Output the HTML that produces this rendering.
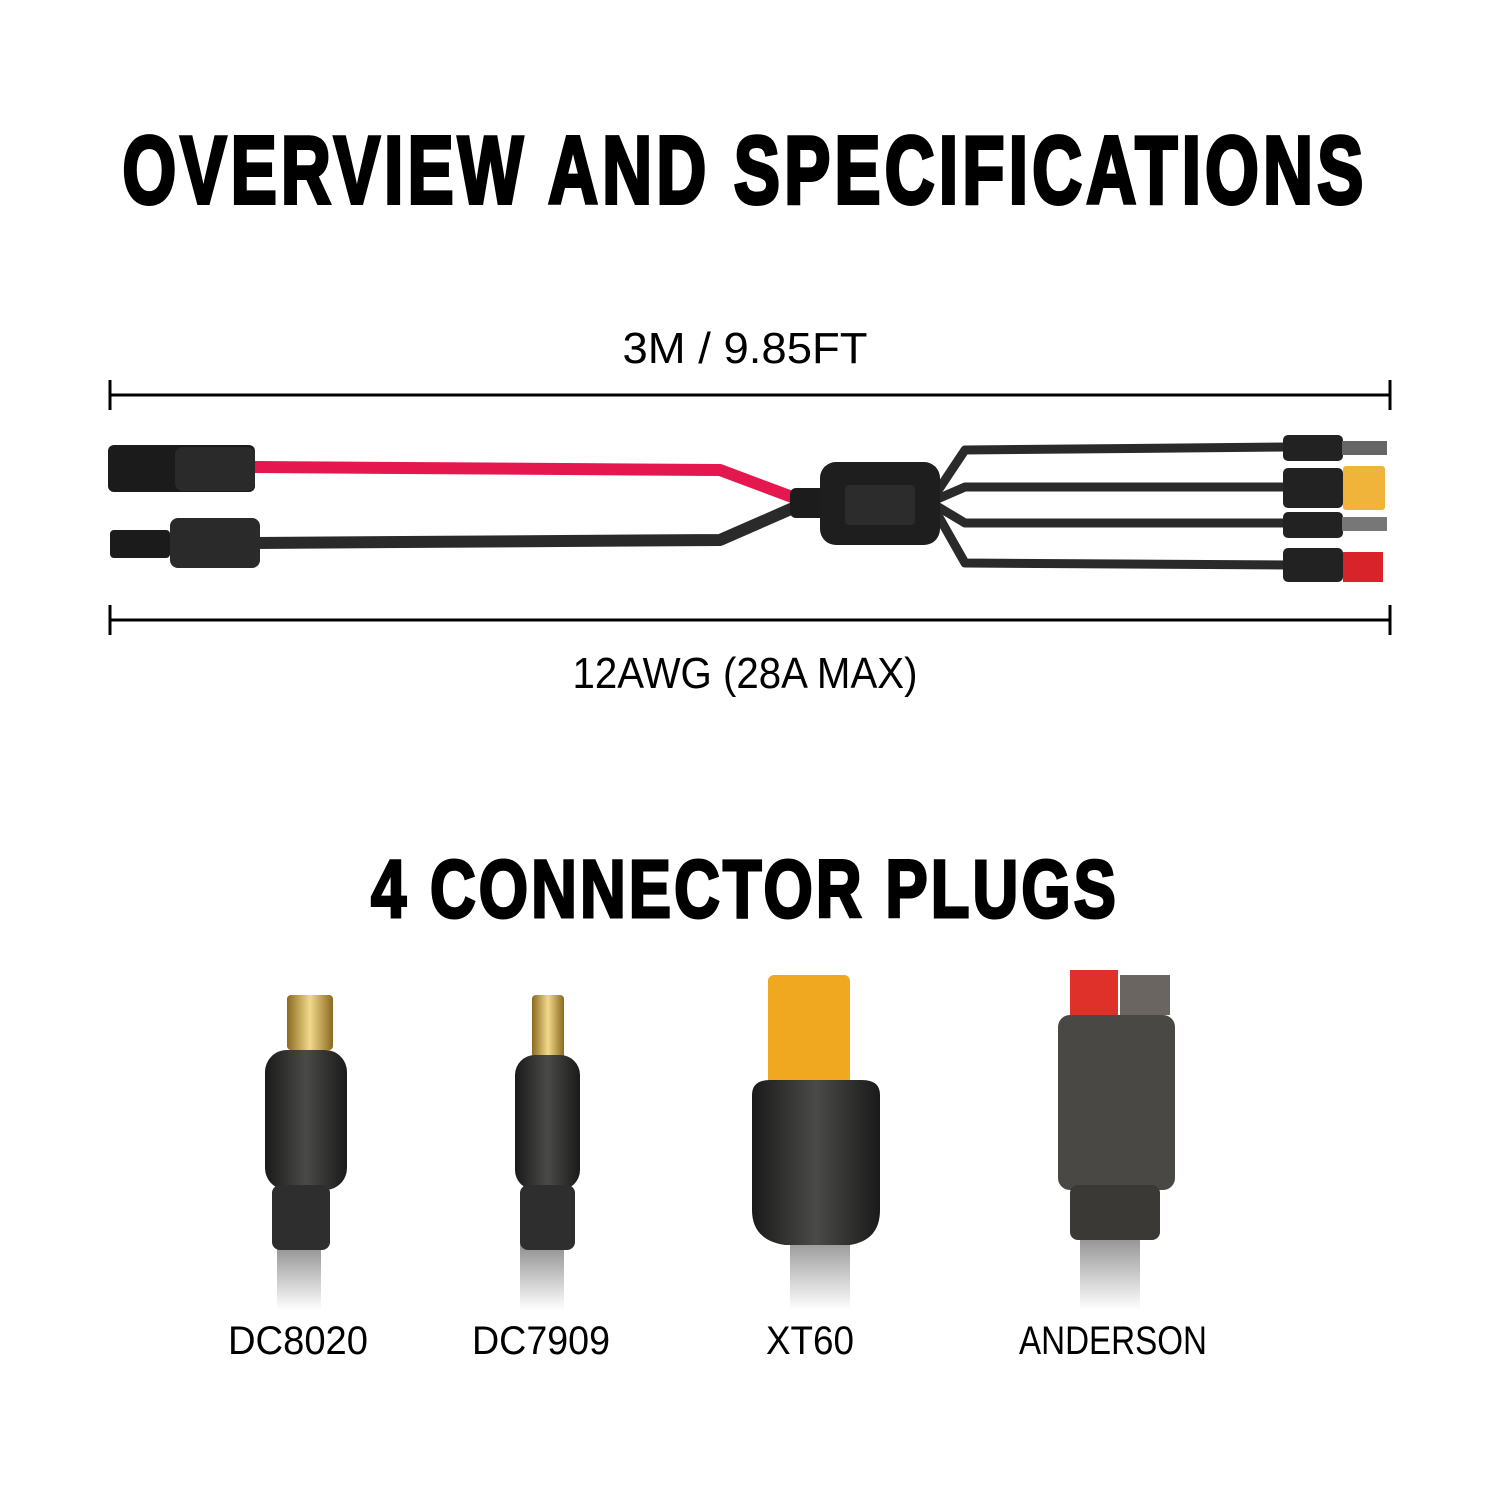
<!DOCTYPE html>
<html><head><meta charset="utf-8"><style>
body{margin:0;background:#fff}
svg text{font-family:"Liberation Sans Narrow","Liberation Sans",sans-serif;fill:#000}
</style></head><body>
<svg width="1500" height="1500" viewBox="0 0 1500 1500" xmlns="http://www.w3.org/2000/svg">
<defs>
<linearGradient id="cab" x1="0" y1="0" x2="0" y2="1"><stop offset="0" stop-color="#888"/><stop offset="1" stop-color="#fff"/></linearGradient>
<linearGradient id="gold" x1="0" x2="1"><stop offset="0" stop-color="#8a6a20"/><stop offset=".5" stop-color="#f2d98a"/><stop offset="1" stop-color="#8a6a20"/></linearGradient>
<linearGradient id="blk" x1="0" x2="1"><stop offset="0" stop-color="#1a1a1a"/><stop offset=".5" stop-color="#4a4a48"/><stop offset="1" stop-color="#1a1a1a"/></linearGradient>
</defs>
<text x="745" y="203" text-anchor="middle" font-size="96" font-weight="bold" stroke="#000" stroke-width="4" textLength="1245" lengthAdjust="spacingAndGlyphs" letter-spacing="6">OVERVIEW AND SPECIFICATIONS</text>
<text x="745" y="363" text-anchor="middle" font-size="44" textLength="245" lengthAdjust="spacingAndGlyphs">3M / 9.85FT</text>
<g stroke="#000" stroke-width="3"><line x1="110" y1="395" x2="1390" y2="395"/><line x1="110" y1="380" x2="110" y2="410"/><line x1="1390" y1="380" x2="1390" y2="410"/>
<line x1="110" y1="620" x2="1390" y2="620"/><line x1="110" y1="605" x2="110" y2="635"/><line x1="1390" y1="605" x2="1390" y2="635"/></g>
<text x="745" y="688" text-anchor="middle" font-size="44" textLength="345" lengthAdjust="spacingAndGlyphs">12AWG (28A MAX)</text>
<g fill="none" stroke-width="12" stroke-linejoin="round">
<polyline points="250,467 720,470 800,500" stroke="#e5174f"/>
<polyline points="255,543 720,540 800,505" stroke="#2a2a2a"/>
<g stroke="#2a2a2a" stroke-width="9">
<polyline points="935,495 965,450 1290,447"/><polyline points="935,500 965,487 1290,487"/>
<polyline points="935,505 965,523 1290,523"/><polyline points="935,510 965,563 1290,565"/></g></g>
<rect x="790" y="488" width="35" height="30" rx="6" fill="#1c1c1c"/>
<rect x="820" y="462" width="120" height="83" rx="16" fill="#1e1e1e"/>
<rect x="845" y="485" width="70" height="40" rx="4" fill="#2c2c2c"/>
<rect x="108" y="445" width="147" height="47" rx="6" fill="#1b1b1b"/>
<rect x="175" y="447" width="80" height="44" rx="8" fill="#2a2a2a"/>
<rect x="110" y="530" width="60" height="28" rx="4" fill="#1b1b1b"/>
<rect x="170" y="518" width="90" height="50" rx="8" fill="#2a2a2a"/>
<g fill="#222"><rect x="1283" y="435" width="60" height="26" rx="5"/><rect x="1283" y="468" width="60" height="40" rx="5"/><rect x="1283" y="512" width="60" height="26" rx="5"/><rect x="1283" y="548" width="60" height="34" rx="5"/></g>
<rect x="1342" y="441" width="45" height="14" fill="#666"/><rect x="1342" y="517" width="45" height="14" fill="#777"/>
<rect x="1343" y="466" width="42" height="44" rx="3" fill="#f0b43a"/>
<rect x="1343" y="552" width="40" height="30" fill="#d8232a"/>
<text x="745" y="917" text-anchor="middle" font-size="82" font-weight="bold" stroke="#000" stroke-width="3" textLength="748" lengthAdjust="spacingAndGlyphs" letter-spacing="4">4 CONNECTOR PLUGS</text>
<g>
<rect x="277" y="1240" width="44" height="70" fill="url(#cab)"/>
<rect x="287" y="995" width="46" height="55" rx="4" fill="url(#gold)"/>
<rect x="265" y="1050" width="82" height="140" rx="22" fill="url(#blk)"/>
<rect x="272" y="1185" width="58" height="65" rx="8" fill="#2e2e2e"/>
<rect x="520" y="1240" width="44" height="70" fill="url(#cab)"/>
<rect x="532" y="995" width="32" height="65" rx="4" fill="url(#gold)"/>
<rect x="515" y="1055" width="65" height="135" rx="20" fill="url(#blk)"/>
<rect x="520" y="1185" width="55" height="65" rx="8" fill="#2e2e2e"/>
<rect x="790" y="1230" width="60" height="80" fill="url(#cab)"/>
<rect x="768" y="975" width="82" height="110" rx="6" fill="#f0a820"/>
<path d="M752,1095 Q752,1080 770,1080 L862,1080 Q880,1080 880,1095 L880,1210 Q880,1240 850,1245 L785,1245 Q752,1240 752,1210Z" fill="url(#blk)"/>
<rect x="1080" y="1230" width="60" height="80" fill="url(#cab)"/>
<rect x="1070" y="970" width="48" height="45" fill="#e0302a"/>
<rect x="1120" y="975" width="50" height="40" fill="#6a6560"/>
<rect x="1058" y="1015" width="117" height="175" rx="12" fill="#4a4845"/>
<rect x="1070" y="1185" width="90" height="55" rx="8" fill="#3a3936"/>
</g>
<g font-size="40" text-anchor="middle">
<text x="298" y="1354" textLength="140" lengthAdjust="spacingAndGlyphs">DC8020</text>
<text x="541" y="1354" textLength="138" lengthAdjust="spacingAndGlyphs">DC7909</text>
<text x="810" y="1354" textLength="88" lengthAdjust="spacingAndGlyphs">XT60</text>
<text x="1113" y="1354" textLength="188" lengthAdjust="spacingAndGlyphs">ANDERSON</text>
</g>
</svg>
</body></html>
